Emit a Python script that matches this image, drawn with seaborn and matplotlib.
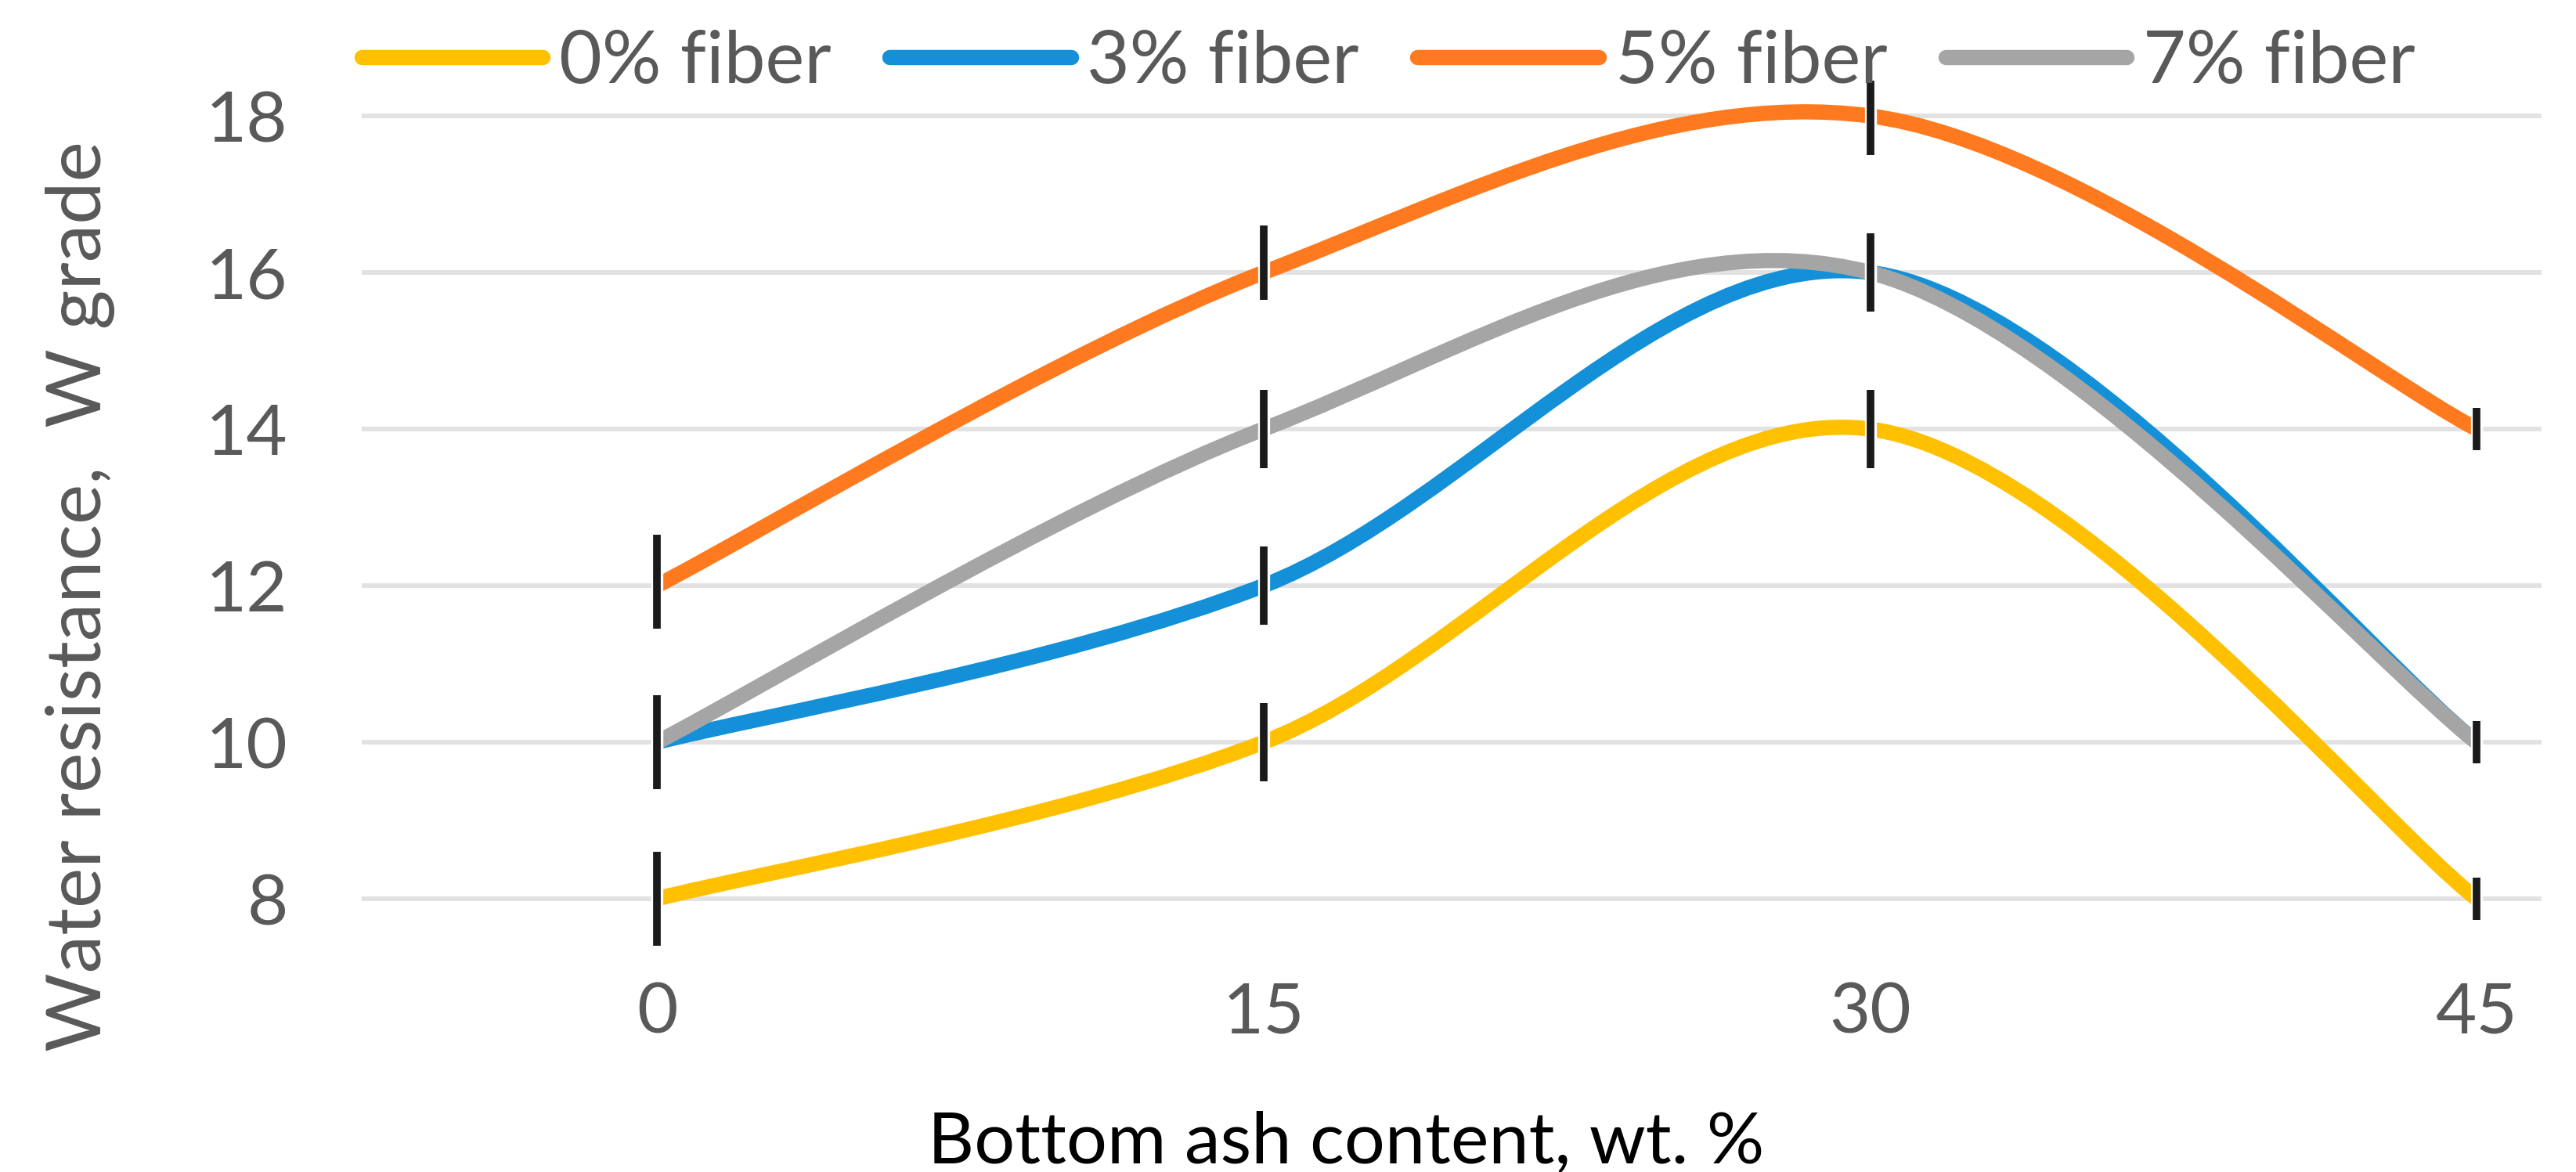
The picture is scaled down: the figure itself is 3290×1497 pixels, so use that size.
import numpy as np
import matplotlib
matplotlib.use("Agg")
import matplotlib.pyplot as plt
import matplotlib.patheffects as pe
import seaborn as sns
from matplotlib.path import Path
from matplotlib.patches import PathPatch
from matplotlib.lines import Line2D

# ---------------------------------------
# Data
# ---------------------------------------
ash_content = [0, 15, 30, 45]
series_labels = ["0% fiber", "3% fiber", "5% fiber", "7% fiber"]

fiber_0 = [8, 10, 14, 8]
fiber_3 = [10, 12, 16, 10]
fiber_5 = [12, 16, 18, 14]
fiber_7 = [10, 14, 16, 10]

# error bar lengths (below / above the point)
err_below_0 = [0.6, 0.5, 0.5, 0.27]
err_above_0 = [0.6, 0.5, 0.5, 0.27]
err_below_3 = [0.6, 0.5, 0.5, 0.27]
err_above_3 = [0.6, 0.5, 0.5, 0.27]
err_below_5 = [0.55, 0.35, 0.5, 0.27]
err_above_5 = [0.65, 0.6, 0.45, 0.27]
err_below_7 = [0.6, 0.5, 0.5, 0.27]
err_above_7 = [0.6, 0.5, 0.5, 0.27]

y_ticks = [8, 10, 12, 14, 16, 18]

series_values = [fiber_0, fiber_3, fiber_5, fiber_7]
series_err = [
    (err_below_0, err_above_0),
    (err_below_3, err_above_3),
    (err_below_5, err_above_5),
    (err_below_7, err_above_7),
]
colors = ["#FFC000", "#1490D8", "#FF7A1F", "#A5A5A5"]

# ---------------------------------------
# Theme
# ---------------------------------------
sns.set_theme(style="white")
plt.rcParams["font.family"] = ["Lato", "DejaVu Sans"]


def smooth_path(xs, ys):
    # Excel-like smoothed line: cubic Bezier through the data points
    pts = np.column_stack([xs, ys]).astype(float)
    n = len(pts)
    verts = [pts[0]]
    codes = [Path.MOVETO]
    for i in range(n - 1):
        p0 = pts[max(i - 1, 0)]
        p1 = pts[i]
        p2 = pts[i + 1]
        p3 = pts[min(i + 2, n - 1)]
        verts += [p1 + (p2 - p0) / 6, p2 - (p3 - p1) / 6, p2]
        codes += [Path.CURVE4] * 3
    return Path(verts, codes)


fig = plt.figure(figsize=(32.91, 14.97), dpi=100)
ax = fig.add_axes([0.1404, 0.1663, 0.8459, 0.7615])

for vals, color in zip(series_values, colors):
    patch = PathPatch(smooth_path(ash_content, vals), fill=False,
                      edgecolor=color, lw=14, capstyle="butt",
                      joinstyle="round", zorder=3)
    ax.add_patch(patch)

for vals, (lo, hi) in zip(series_values, series_err):
    eb = ax.errorbar(ash_content, vals, yerr=[lo, hi], fmt="none",
                     ecolor="#1A1A1A", elinewidth=7, capsize=0,
                     zorder=5, clip_on=False)
    for coll in eb[2]:
        coll.set_clip_on(False)
        coll.set_path_effects([pe.Stroke(linewidth=11, foreground="white"),
                               pe.Normal()])

ax.set_xlim(-7.3, 46.6)
ax.set_ylim(7.0, 18.4)
ax.set_xticks(ash_content)
ax.set_yticks(y_ticks)
ax.yaxis.grid(True, color="#E2E2E2", lw=4.3)
ax.xaxis.grid(False)
sns.despine(ax=ax, left=True, bottom=True)

ax.tick_params(axis="both", length=0, labelsize=65, labelcolor="#595959")
ax.tick_params(axis="y", pad=68)
ax.tick_params(axis="x", pad=4)

ax.set_xlabel("Bottom ash content, wt. %", fontsize=66, color="black")
ax.xaxis.set_label_coords(0.4515, -0.150)
ax.set_ylabel("Water resistance,  W grade", fontsize=70, color="#595959")
ax.yaxis.set_label_coords(-0.113, 0.427)

handles = [Line2D([0], [0], color=c, lw=14, solid_capstyle="round") for c in colors]
fig.legend(handles, series_labels, loc="center", bbox_to_anchor=(0.5388, 0.9466),
           ncol=4, frameon=False, fontsize=68, handlelength=2.45,
           handletextpad=0.22, columnspacing=0.79, labelcolor="#595959")

fig.savefig("out.png", dpi=100)
